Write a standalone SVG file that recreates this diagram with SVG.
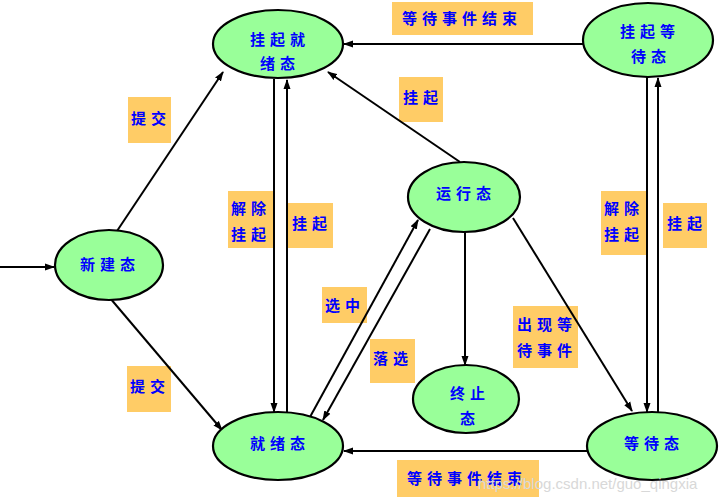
<svg xmlns="http://www.w3.org/2000/svg" width="719" height="503" viewBox="0 0 719 503">
<defs>
<marker id="ah" markerWidth="10" markerHeight="8" refX="9" refY="4" orient="auto" markerUnits="userSpaceOnUse">
<path d="M0,0.5 L10,4 L0,7.5 z" fill="#000"/>
</marker>
<style>
.st{fill:#99FF99;stroke:#000;stroke-width:2.2}
.lb{fill:#FFCC66}
.t{font-family:"Noto Sans CJK SC","Noto Sans CJK TC",sans-serif;font-size:15px;fill:#0000FF;font-weight:bold;letter-spacing:5px}
.c{fill:none;stroke:#000;stroke-width:2;marker-end:url(#ah)}
.wm{font-family:"Liberation Sans",Arial,sans-serif;font-size:15px;fill:#d8d8d8}
</style>
</defs>
<rect width="719" height="503" fill="#fff"/>

<g id="labels">
<rect class="lb" x="392" y="2" width="141" height="33"/>
<text class="t" x="402" y="24">等待事件结束</text>
<rect class="lb" x="399" y="77" width="44" height="45"/>
<text class="t" x="403" y="103">挂起</text>
<rect class="lb" x="128" y="97" width="43" height="46"/>
<text class="t" x="131" y="124">提交</text>
<rect class="lb" x="228" y="191" width="45" height="57"/>
<text class="t" x="231" y="214">解除</text>
<text class="t" x="231" y="240">挂起</text>
<rect class="lb" x="288" y="203" width="45" height="45"/>
<text class="t" x="292" y="229">挂起</text>
<rect class="lb" x="601" y="191" width="45" height="64"/>
<text class="t" x="604" y="214">解除</text>
<text class="t" x="604" y="240">挂起</text>
<rect class="lb" x="663" y="203" width="44" height="45"/>
<text class="t" x="667" y="229">挂起</text>
<rect class="lb" x="322" y="287" width="45" height="36"/>
<text class="t" x="325" y="311">选中</text>
<rect class="lb" x="370" y="339" width="45" height="44"/>
<text class="t" x="373" y="364">落选</text>
<rect class="lb" x="513" y="306" width="65" height="62"/>
<text class="t" x="517" y="330">出现等</text>
<text class="t" x="517" y="356">待事件</text>
<rect class="lb" x="127" y="366" width="44" height="46"/>
<text class="t" x="130" y="392">提交</text>
<rect class="lb" x="397" y="460" width="142" height="37"/>
<text class="t" x="407" y="484">等待事件结束</text>
</g>

<g id="connectors">
<line class="c" x1="0" y1="267" x2="54" y2="267"/>
<line class="c" x1="117" y1="231" x2="223" y2="72"/>
<line class="c" x1="110" y1="298" x2="222" y2="430"/>
<line class="c" x1="274" y1="79" x2="274" y2="412"/>
<line class="c" x1="287" y1="413" x2="287" y2="80"/>
<line class="c" x1="583" y1="44" x2="344" y2="44"/>
<line class="c" x1="460" y1="162" x2="328" y2="72"/>
<line class="c" x1="465" y1="232" x2="465" y2="365"/>
<line class="c" x1="513" y1="218" x2="632" y2="411"/>
<line class="c" x1="310" y1="417" x2="418" y2="220"/>
<line class="c" x1="430" y1="229" x2="323" y2="420"/>
<line class="c" x1="587" y1="451" x2="344" y2="451"/>
<line class="c" x1="647" y1="77" x2="647" y2="412"/>
<line class="c" x1="658" y1="413" x2="658" y2="78"/>
</g>

<g id="n-suspend-ready">
<ellipse class="st" cx="278" cy="44" rx="65" ry="34"/>
<text class="t" x="250" y="45">挂起就</text>
<text class="t" x="260" y="69">绪态</text>
</g>
<g id="n-suspend-wait">
<ellipse class="st" cx="648" cy="40" rx="65" ry="37"/>
<text class="t" x="620" y="37">挂起等</text>
<text class="t" x="631" y="62">待态</text>
</g>
<g id="n-new">
<ellipse class="st" cx="109" cy="265" rx="54" ry="35"/>
<text class="t" x="80" y="270">新建态</text>
</g>
<g id="n-run">
<ellipse class="st" cx="464" cy="197" rx="56" ry="35"/>
<text class="t" x="436" y="199">运行态</text>
</g>
<g id="n-end">
<ellipse class="st" cx="466" cy="399" rx="53" ry="34"/>
<text class="t" x="450" y="399">终止</text>
<text class="t" x="460" y="424">态</text>
</g>
<g id="n-ready">
<ellipse class="st" cx="278" cy="446" rx="65" ry="34"/>
<text class="t" x="250" y="449">就绪态</text>
</g>
<g id="n-wait">
<ellipse class="st" cx="652" cy="446" rx="65" ry="34"/>
<text class="t" x="624" y="449">等待态</text>
</g>

<text class="wm" x="478" y="489">https://blog.csdn.net/guo_qingxia</text>
</svg>
